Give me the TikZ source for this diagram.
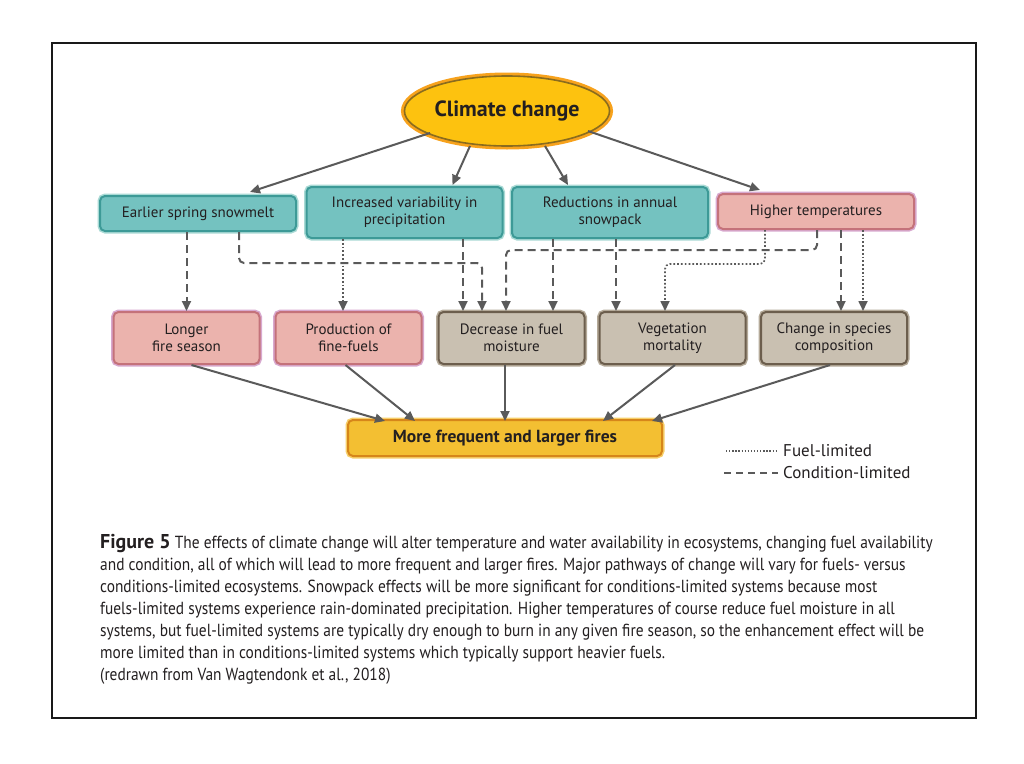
\documentclass[tikz,border=0pt]{standalone}
\usepackage{fontspec}
\setmainfont{PT Sans}
\newfontfamily\capfont[FakeStretch=0.88]{PT Sans}
\usetikzlibrary{arrows.meta,shapes.geometric}
\definecolor{tealfill}{HTML}{74C2C0}
\definecolor{tealline}{HTML}{3D9A97}
\definecolor{tealglow}{HTML}{A9DAD5}
\definecolor{pinkfill}{HTML}{EBB3AD}
\definecolor{pinkline}{HTML}{C4727A}
\definecolor{pinkglow}{HTML}{D8A9CF}
\definecolor{beigefill}{HTML}{C9C0B1}
\definecolor{beigeline}{HTML}{6C5E4D}
\definecolor{beigeglow}{HTML}{B5AA99}
\definecolor{goldfill}{HTML}{F3BF32}
\definecolor{goldline}{HTML}{D6861A}
\definecolor{goldglow}{HTML}{F7CF6A}
\definecolor{ellfill}{HTML}{FDC20F}
\definecolor{ellglow}{HTML}{F7A21C}
\definecolor{ellline}{HTML}{8A6C1E}
\definecolor{conn}{HTML}{5A5A5A}
\definecolor{ink}{HTML}{231F20}
\begin{document}
\begin{tikzpicture}[x=1pt,y=-1pt,
  box/.style={rectangle,rounded corners=5pt,align=center,text=ink,inner sep=0pt,
    font=\fontsize{15}{17}\selectfont,line width=2pt},
  tealbox/.style={box,fill=tealfill,draw=tealline,preaction={draw=tealglow,line width=5pt},
    minimum width=196pt,minimum height=#1},
  pinkbox/.style={box,fill=pinkfill,draw=pinkline,preaction={draw=pinkglow,line width=5pt},
    minimum width=#1},
  beigebox/.style={box,fill=beigefill,draw=beigeline,preaction={draw=beigeglow,line width=5pt},
    minimum width=146pt,minimum height=52pt},
  solidarrow/.style={draw=conn,line width=2pt,-{Triangle[length=10pt,width=9pt]}},
  dasharrow/.style={draw=conn,line width=2pt,dash pattern=on 8pt off 5pt,rounded corners=5pt,
    -{Triangle[length=10pt,width=9pt]}},
  dotarrow/.style={draw=conn,line width=1.7pt,dash pattern=on 1.7pt off 2.1pt,rounded corners=5pt,
    -{Triangle[length=10pt,width=9pt]}},
  captext/.style={anchor=base west,inner sep=0pt,text=ink,font=\capfont\fontsize{17.5}{20}\selectfont},
  legtext/.style={anchor=west,inner sep=0pt,text=ink,font=\fontsize{17}{19}\selectfont}
]
\useasboundingbox (0,0) rectangle (1024,763);
\fill[white] (0,0) rectangle (1024,763);
\draw[line width=2pt,black!90] (52,43) rectangle (976,718);

% top ellipse
\node[ellipse,minimum width=194pt,minimum height=70pt,inner sep=0pt,fill=ellfill,draw=ellline,
  line width=1.6pt,preaction={draw=ellglow,line width=7pt},text=ink,
  font=\fontsize{22}{24}\selectfont\bfseries] (cc) at (507,111) {Climate change};

% level 1
\node[tealbox=35pt] (esm) at (198,213.5) {Earlier spring snowmelt};
\node[tealbox=51pt] (ivp) at (404.5,212.5) {Increased variability in\\precipitation};
\node[tealbox=51pt] (ras) at (610,212.5) {Reductions in annual\\snowpack};
\node[pinkbox=196pt,minimum height=35pt] (ht) at (816,211.5) {Higher temperatures};

% level 2
\node[pinkbox=146pt,minimum height=52pt] (lfs) at (186.5,338) {Longer\\fire season};
\node[pinkbox=146pt,minimum height=52pt] (pff) at (348.5,338) {Production of\\fine-fuels};
\node[beigebox] (dfm) at (511.5,338) {Decrease in fuel\\moisture};
\node[beigebox] (vm) at (672.5,338) {Vegetation\\mortality};
\node[beigebox] (csc) at (834,338) {Change in species\\composition};

% bottom
\node[box,fill=goldfill,draw=goldline,preaction={draw=goldglow,line width=5pt},
  minimum width=314pt,minimum height=36pt,font=\fontsize{17.5}{19}\selectfont\bfseries] (mff) at (505,438)
  {More frequent and larger fires};

% climate change arrows
\draw[solidarrow] ([shift={(-77,22)}]cc.center) -- ([xshift=52pt,yshift=3pt]esm.north);
\draw[solidarrow] ([shift={(-37,35)}]cc.center) -- ([xshift=48pt,yshift=1pt]ivp.north);
\draw[solidarrow] ([shift={(38,35)}]cc.center) -- ([xshift=-42pt,yshift=1pt]ras.north);
\draw[solidarrow] ([shift={(81,20)}]cc.center) -- ([xshift=-56pt,yshift=3pt]ht.north);

% arrival coordinates
\coordinate (p1) at ([xshift=-5.5pt]pff.north);
\coordinate (d1) at ([xshift=-48.5pt]dfm.north);
\coordinate (d2) at ([xshift=-29.5pt]dfm.north);
\coordinate (d3) at ([xshift=-5.5pt]dfm.north);
\coordinate (d4) at ([xshift=41.5pt]dfm.north);
\coordinate (v1) at ([xshift=-56.5pt]vm.north);
\coordinate (v2) at ([xshift=-7.5pt]vm.north);
\coordinate (c1) at ([xshift=7pt]csc.north);
\coordinate (c2) at ([xshift=29pt]csc.north);

% level 1 -> level 2
\draw[dasharrow] (esm.south -| lfs.north) -- (lfs.north);
\draw[dasharrow] ([xshift=41pt]esm.south) -- ++(0,31) -| (d2);
\draw[dotarrow] (p1 |- ivp.south) -- (p1);
\draw[dasharrow] (d1 |- ivp.south) -- (d1);
\draw[dasharrow] (d4 |- ras.south) -- (d4);
\draw[dasharrow] (v1 |- ras.south) -- (v1);
\draw[dasharrow] ([xshift=1pt]ht.south) -- ++(0,20) -| (d3);
\draw[dotarrow] ([xshift=-51pt]ht.south) -- ++(0,34) -| (v2);
\draw[dasharrow] (c1 |- ht.south) -- (c1);
\draw[dotarrow] (c2 |- ht.south) -- (c2);

% level 2 -> bottom
\draw[solidarrow] ([xshift=5pt]lfs.south) -- ([xshift=-120pt,yshift=-2pt]mff.north);
\draw[solidarrow] ([xshift=-3pt]pff.south) -- ([xshift=-90pt,yshift=-2pt]mff.north);
\draw[solidarrow] (dfm.south -| mff.north) -- ([yshift=-2pt]mff.north);
\draw[solidarrow] ([xshift=2.5pt]vm.south) -- ([xshift=98pt,yshift=-2pt]mff.north);
\draw[solidarrow] ([xshift=-4pt]csc.south) -- ([xshift=147pt,yshift=-2pt]mff.north);

% legend
\coordinate (l1a) at (726,451);
\coordinate (l1b) at (778,451);
\coordinate (l2a) at (724,473);
\coordinate (l2b) at (778,473);
\draw[conn,line width=1.3pt,dash pattern=on 1.3pt off 1.8pt] (l1a) -- (l1b);
\draw[conn,line width=1.6pt,dash pattern=on 7pt off 5pt] (l2a) -- (l2b);
\node[legtext] (lg1) at (783,451) {Fuel-limited};
\node[legtext] (lg2) at (783,473) {Condition-limited};

% caption
\node[captext] (cap1) at (100,548) {{\rmfamily\fontsize{20}{20}\selectfont\bfseries Figure 5} The effects of climate change will alter temperature and water availability in ecosystems, changing fuel availability};
\node[captext] (cap2) at (100,570) {and condition, all of which will lead to more frequent and larger fires. Major pathways of change will vary for fuels- versus};
\node[captext] (cap3) at (100,592) {conditions-limited ecosystems. Snowpack effects will be more significant for conditions-limited systems because most};
\node[captext] (cap4) at (100,614) {fuels-limited systems experience rain-dominated precipitation. Higher temperatures of course reduce fuel moisture in all};
\node[captext] (cap5) at (100,636) {systems, but fuel-limited systems are typically dry enough to burn in any given fire season, so the enhancement effect will be};
\node[captext] (cap6) at (100,658) {more limited than in conditions-limited systems which typically support heavier fuels.};
\node[captext] (cap7) at (100,680) {(redrawn from Van Wagtendonk et al., 2018)};
\end{tikzpicture}
\end{document}
